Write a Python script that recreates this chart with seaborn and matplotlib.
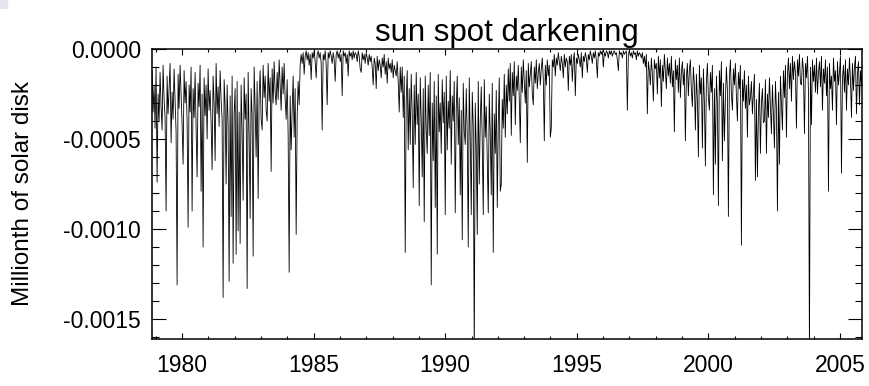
import numpy as np
import pandas as pd
import matplotlib
matplotlib.use("Agg")
import matplotlib.pyplot as plt
import matplotlib.ticker as mticker
import seaborn as sns

# ---- data (values in units of 1e-4 of the solar disk) ----
start_year = 1978.86          # first sample
step_years = 1 / 26.3         # spacing between samples

cycle21 = [
    -1.2, -3.5, -2.0, -4.4, -1.0, -7.4, -2.5, -4.0, -1.3, -3.2,
    -4.5, -0.9, -2.8, -3.8, -9.0, -1.5, -3.6, -2.2, -0.8, -5.2,
    -2.4, -3.9, -1.1, -2.9, -4.6, -13.1, -1.4, -3.3, -0.9, -2.6,
    -4.2, -6.4, -1.2, -3.0, -1.8, -4.0, -9.9, -2.0, -3.5, -1.0,
    -9.0, -2.2, -3.8, -1.3, -4.4, -7.1, -1.9, -3.2, -0.9, -7.9,
    -2.5, -11.0, -1.6, -3.7, -2.0, -5.0, -1.1, -3.4, -2.3, -4.1,
    -6.7, -1.5, -3.0, -6.2, -0.8, -3.6, -2.1, -4.3, -1.2, -2.8,
    -3.9, -13.8, -1.7, -3.1, -7.5, -2.0, -4.2, -12.9, -2.6, -9.3,
    -1.5, -11.9, -3.6, -2.2, -11.4, -1.8, -10.1, -3.5, -10.8, -2.0,
    -4.6, -8.4, -1.6, -3.9, -2.5, -13.3, -1.3, -4.8, -9.4, -2.2,
    -3.7, -11.5, -1.0, -3.2, -6.0, -1.8, -8.3, -2.6, -1.2, -3.9,
    -4.5, -0.9, -2.7, -1.5, -3.4, -4.0, -0.8, -2.9, -1.6, -6.8,
    -1.1, -3.0, -0.7, -2.4, -3.1, -1.3, -2.8, -0.6, -2.0, -3.4,
    -1.0, -2.5, -0.8, -2.8, -3.9, -1.7, -4.8, -12.4, -2.6, -5.6,
    -3.4, -1.5, -4.9, -2.2, -10.3, -3.8, -1.8, -3.1, -0.9,
]

minimum1986 = [
    -0.3, -0.8, -0.2, -1.4, -0.4, -0.1, -0.6, -0.2, -0.9, -0.3,
    -1.7, -0.2, -0.5, -0.1, -0.7, -1.6, -0.3, -0.1, -0.5, -0.2,
    -0.8, -4.5, -0.3, -0.6, -0.1, -0.9, -3.1, -0.2, -0.5, -0.1,
    -0.4, -0.8, -0.2, -0.6, -1.8, -0.3, -0.1, -0.5, -0.2, -0.7,
    -0.3, -2.6, -0.1, -0.4, -0.2, -0.8, -0.3, -1.5, -0.1, -0.4,
    -0.2, -0.6, -0.1, -0.5, -0.2, -0.3, -0.7, -0.1, -0.4, -1.1,
    -1.3, -0.2, -0.6, -0.3, -0.8, -0.2, -0.5, -0.9, -0.3, -0.7,
    -0.4, -1.0, -2.0, -0.5, -0.8, -2.2, -0.4, -1.2, -0.6, -0.9,
    -1.6, -0.5, -1.0, -0.3, -1.4, -0.7, -1.9, -0.5, -1.1, -0.8,
    -1.3, -0.6, -1.6, -0.9, -1.2, -1.5, -0.7, -1.8, -3.5, -1.0,
]

cycle22 = [
    -2.4, -1.0, -3.8, -1.5, -11.3, -2.8, -1.2, -5.6, -2.2, -5.3,
    -1.4, -3.6, -7.7, -2.0, -5.3, -1.3, -4.2, -2.5, -8.7, -1.6,
    -3.9, -7.1, -2.2, -9.6, -1.5, -4.5, -5.8, -2.0, -4.8, -1.3,
    -13.1, -3.0, -6.2, -1.8, -8.8, -2.6, -11.4, -1.4, -4.6, -3.0,
    -5.8, -1.7, -4.1, -2.4, -9.2, -1.5, -5.6, -2.9, -4.4, -1.2,
    -6.4, -2.6, -4.0, -1.8, -9.1, -3.3, -1.5, -5.3, -2.7, -8.1,
    -3.4, -10.6, -1.9, -4.6, -5.3, -2.2, -4.8, -11.0, -1.6, -5.0,
    -9.2, -2.4, -4.3, -17.0, -3.0, -5.5, -10.3, -1.8, -7.5, -4.0,
    -2.1, -5.2, -9.2, -1.7, -4.9, -3.2, -6.0, -9.1, -2.5, -4.7,
    -8.1, -1.9, -11.3, -3.6, -5.8, -2.3, -8.8, -4.1, -1.6, -7.9,
    -7.5, -2.8, -4.4, -1.4, -4.9, -2.0, -3.6, -1.1, -2.9, -0.8,
    -4.8, -1.3, -2.6, -0.7, -4.2, -1.5, -2.3, -0.9, -2.8, -5.2,
    -1.0, -2.4, -0.6, -1.8, -3.0, -1.2, -6.3, -0.8, -2.1, -1.4,
    -0.7, -2.5, -3.1, -1.0, -1.9, -0.6, -2.2, -1.3, -0.8, -2.0,
    -1.1, -0.5, -1.7, -5.1, -0.9, -2.0, -0.6, -1.5, -0.9, -4.9,
]

minimum1996 = [
    -4.4, -0.6, -1.0, -0.3, -1.5, -0.5, -0.9, -0.2, -0.7, -1.2,
    -0.4, -0.8, -1.6, -0.3, -1.0, -0.5, -0.7, -2.3, -0.4, -0.9,
    -0.3, -1.8, -0.6, -0.2, -2.6, -0.5, -0.8, -0.3, -0.6, -1.0,
    -0.2, -1.6, -0.4, -0.7, -0.2, -0.5, -1.3, -0.3, -0.6, -0.1,
    -0.4, -0.8, -0.2, -0.5, -0.1, -0.6, -1.6, -0.2, -0.4, -0.1,
    -0.3, -0.1, -1.0, -0.2, -0.4, -0.1, -0.2, -0.5, -0.1, -0.3,
    -0.1, -0.4, -0.2, -0.1, -0.3, -0.2, -0.6, -1.2, -0.1, -0.3,
    -0.2, -0.5, -0.1, -0.3, -0.2, -0.1, -3.4, -0.3, -0.1, -0.4,
    -0.2, -0.5, -0.1, -0.3, -0.2, -0.6, -0.1, -0.4, -0.2, -0.3,
    -0.5, -0.2, -0.8, -0.4, -1.0, -0.3, -3.6, -0.7, -1.2, -2.0,
    -0.5, -1.4, -2.9, -0.6, -1.1,
]

cycle23 = [
    -0.8, -2.5, -0.4, -1.6, -0.6, -3.2, -0.9, -1.8, -0.3, -1.3,
    -2.2, -0.5, -1.5, -0.8, -1.9, -0.4, -2.1, -1.2, -4.6, -0.6,
    -1.7, -0.9, -2.4, -0.5, -2.7, -1.3, -0.7, -2.0, -1.1, -5.1,
    -1.6, -0.8, -2.6, -1.2, -0.6, -2.3, -3.2, -1.0, -2.0, -4.5,
    -1.4, -2.8, -6.0, -0.9, -2.5, -1.6, -5.5, -1.1, -2.9, -6.5,
    -1.8, -0.8, -2.7, -3.4, -1.3, -2.4, -0.9, -8.1, -2.2, -6.4,
    -1.5, -3.0, -8.7, -1.2, -2.6, -0.7, -6.2, -1.9, -5.1, -2.8,
    -1.0, -2.3, -9.3, -1.6, -0.6, -2.5, -3.4, -1.1, -2.0, -0.8,
    -2.6, -4.0, -1.3, -2.2, -0.9, -10.9, -1.7, -2.9, -1.2, -3.3,
    -2.0, -4.9, -1.5, -3.1, -2.7, -1.8, -3.6, -2.4, -1.4, -7.3,
    -2.8, -7.1, -3.5, -1.9, -5.8, -3.0, -2.2, -4.1, -4.0, -1.7,
    -5.8, -2.5, -3.8, -1.6, -3.2, -4.7, -2.0, -3.6, -5.5, -1.8,
    -3.3, -9.0, -2.4, -6.4, -1.5, -3.0, -4.5, -1.2, -2.7, -0.9,
    -4.9, -1.4, -0.5, -2.2, -0.8, -2.9, -0.4, -1.7, -0.7, -1.3,
    -4.4, -0.6, -1.5, -0.3, -1.9, -2.0, -0.5, -1.2, -4.7, -0.8,
    -1.6, -0.4, -2.3, -17.0, -1.0, -4.2, -0.6, -1.8, -0.9, -2.4,
    -0.5, -2.5, -1.3, -0.7, -2.1, -0.4, -3.4, -1.1, -1.9, -0.6,
    -2.6, -1.0, -7.9, -0.8, -2.2, -1.5, -3.4, -0.5, -1.8, -1.2,
    -4.2, -0.7, -2.0, -1.3, -0.4, -6.9, -1.6, -0.9, -2.4, -0.6,
    -3.4, -1.1, -2.0, -0.5, -1.7, -3.8, -0.8, -2.3, -1.0, -0.4,
    -3.6, -1.4, -0.7, -3.1, -1.2, -2.0, -0.6,
]

value_unit = 1e-4
y_ticks = [0.0, -0.0005, -0.0010, -0.0015]
x_ticks = [1980, 1985, 1990, 1995, 2000, 2005]
title_text = "sun spot darkening"
ylabel_text = "Millionth of solar disk"

# ---- build table ----
values = np.array(cycle21 + minimum1986 + cycle22 + minimum1996 + cycle23) * value_unit
years = start_year + step_years * np.arange(len(values))
df = pd.DataFrame({"year": years, "darkening": values})

# ---- style ----
sns.set_style("ticks")
plt.rcParams["font.family"] = ["Liberation Sans", "DejaVu Sans"]
plt.rcParams["axes.unicode_minus"] = False
plt.rcParams["text.color"] = "black"
plt.rcParams["axes.labelcolor"] = "black"
plt.rcParams["xtick.color"] = "black"
plt.rcParams["ytick.color"] = "black"

fig = plt.figure(figsize=(8.69, 3.86), dpi=100)
ax = fig.add_axes([0.175, 0.122, 0.817, 0.751])

sns.lineplot(data=df, x="year", y="darkening", ax=ax, color="black",
             linewidth=0.6, estimator=None, sort=False)

ax.set_xlim(1978.86, 2005.84)
ax.set_ylim(-0.00161, 0.0)

ax.set_xticks(x_ticks)
ax.set_xticklabels([str(t) for t in x_ticks])
ax.xaxis.set_minor_locator(mticker.MultipleLocator(1))
ax.set_yticks(y_ticks)
ax.set_yticklabels([f"{t:.4f}" if t != 0 else "0.0000" for t in y_ticks])
ax.yaxis.set_minor_locator(mticker.MultipleLocator(0.0001))

ax.tick_params(axis="both", which="both", direction="in",
               top=True, right=True, width=0.8, colors="black",
               labelcolor="black")
ax.tick_params(axis="x", which="major", length=4.3, pad=11, labelsize=16.5)
ax.tick_params(axis="x", which="minor", length=2.2)
ax.tick_params(axis="y", which="major", length=10, pad=8, labelsize=16.5)
ax.tick_params(axis="y", which="minor", length=5)

for s in ax.spines.values():
    s.set_linewidth(1.1)
    s.set_color("black")

ax.set_xlabel("")
ax.set_ylabel(ylabel_text, fontsize=17.5, color="black")
ax.yaxis.set_label_coords(-0.166, 0.5)
ax.set_title(title_text, fontsize=22.5, pad=6, color="black")

# light grey mark in the top-left corner of the original image
fig.patches.append(plt.Rectangle((0, 0.978), 0.008, 0.022, transform=fig.transFigure,
                                 color="#e6e6ec", zorder=0))

fig.savefig("out.png", dpi=100)
